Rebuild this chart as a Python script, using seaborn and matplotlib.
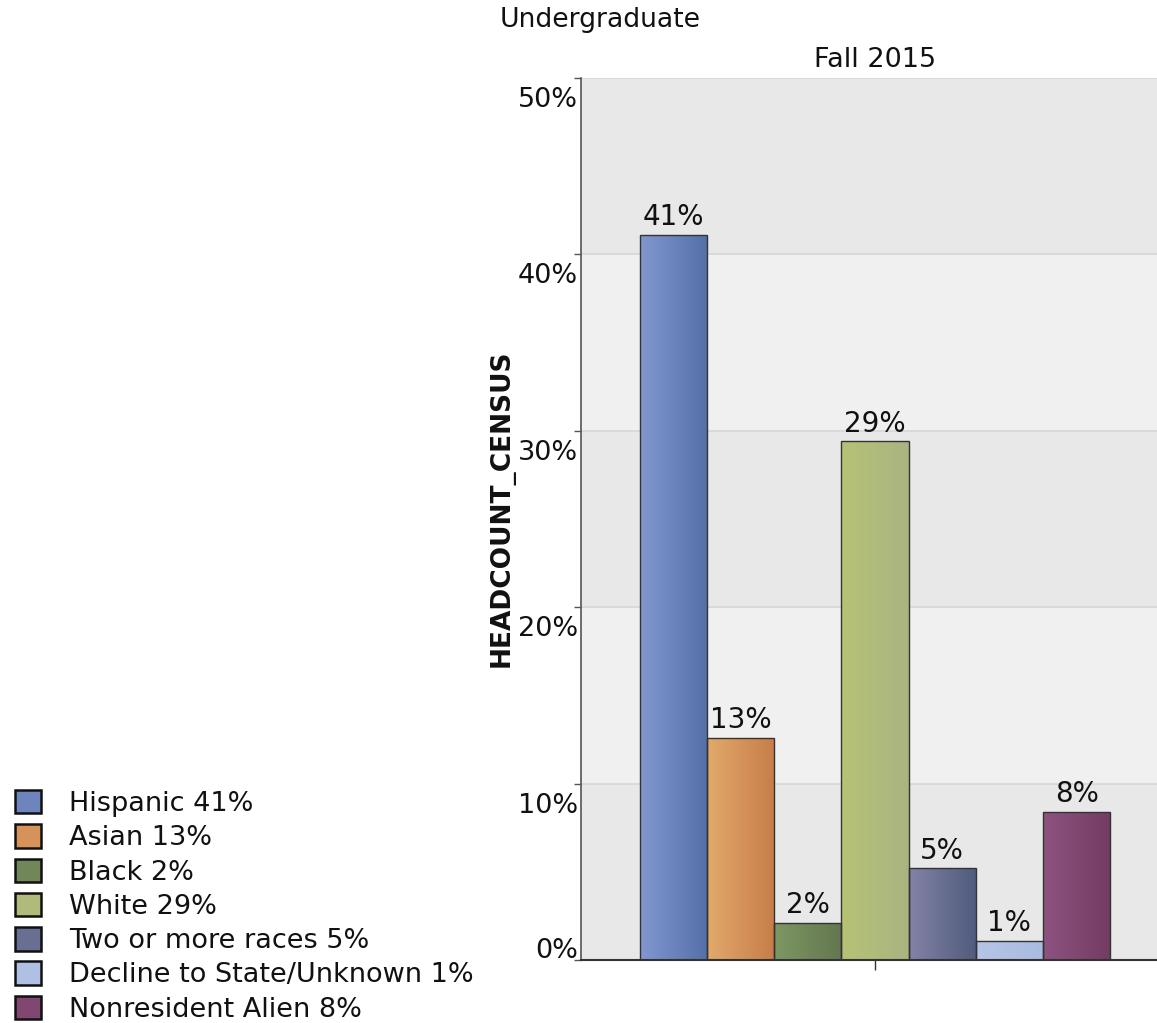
import numpy as np
import pandas as pd
import matplotlib
matplotlib.use("Agg")
import matplotlib.pyplot as plt
import matplotlib.transforms as mtransforms
import seaborn as sns
from matplotlib.colors import LinearSegmentedColormap
from matplotlib.patches import Patch

groups = ["Hispanic", "Asian", "Black", "White", "Two or more races",
          "Decline to State/Unknown", "Nonresident Alien"]
shares = [41.1, 12.6, 2.1, 29.4, 5.2, 1.1, 8.4]
term = ["Fall 2015"] * len(groups)
tick_vals = [0, 10, 20, 30, 40, 50]
tick_labels = ["0%", "10%", "20%", "30%", "40%", "50%"]

# left (light) and right (dark) colours of each bar's gradient
left_colors = ["#8297d0", "#e2aa6b", "#7e9762", "#b6c374", "#8383a6", "#b6c5e6", "#8e5381"]
right_colors = ["#5470a8", "#c77d48", "#637750", "#a9b482", "#4f5b7d", "#a9bbe0", "#733c63"]
mid_colors = ["#6d84bc", "#d5935a", "#718759", "#b0bb7b", "#696f92", "#b0c0e3", "#804772"]

df = pd.DataFrame({"term": term, "group": groups, "share": shares})

sns.set_theme(style="white")
plt.rcParams["font.family"] = ["DejaVu Sans"]

fig = plt.figure(figsize=(11.57, 10.23), dpi=100)
W, H = 1157, 1023
ax = fig.add_axes([581 / W, 1 - 960 / H, 588 / W, 882 / H])

sns.barplot(data=df, x="term", y="share", hue="group", hue_order=groups,
            palette=mid_colors, width=0.8, edgecolor="#333333", linewidth=1.0,
            legend=False, ax=ax)

ax.set_xlim(-0.5, 0.5)
ax.set_ylim(0, 50)

# alternating bands
for lo in range(0, 50, 10):
    ax.axhspan(lo, lo + 10, color="#e8e8e8" if (lo // 10) % 2 == 0 else "#f0f0f0",
               zorder=0, lw=0)
for yv in [10, 20, 30, 40, 50]:
    ax.axhline(yv, color="#d6d6d6", lw=1.2, zorder=0.5)

# gradient fill on each bar
for i, cont in enumerate(ax.containers):
    cmap = LinearSegmentedColormap.from_list("g%d" % i, [left_colors[i], right_colors[i]])
    for bar in cont:
        x0, y0 = bar.get_x(), bar.get_y()
        w, h = bar.get_width(), bar.get_height()
        grad = np.linspace(0, 1, 256).reshape(1, -1)
        im = ax.imshow(grad, cmap=cmap, extent=[x0, x0 + w, y0, y0 + h],
                       aspect="auto", zorder=bar.get_zorder() - 0.1, origin="lower")
        im.set_clip_path(bar)
        bar.set_facecolor("none")
        ax.text(x0 + w / 2, y0 + h + 0.2, "%d%%" % round(shares[i]),
                ha="center", va="bottom", fontsize=20, color="#111111")

ax.set_xlim(-0.5, 0.5)
ax.set_ylim(0, 50)

# y tick labels sit just below their tick, as in the original tool
ax.set_yticks(tick_vals)
ax.set_yticklabels([])
ax.tick_params(axis="y", left=True, length=5, width=1, color="#555555")
ytrans = ax.get_yaxis_transform()
for v, lab in zip(tick_vals, tick_labels):
    if v == 0:
        off = mtransforms.ScaledTranslation(-3 / 100, 2 / 100, fig.dpi_scale_trans)
        ax.text(0, v, lab, transform=ytrans + off, ha="right", va="baseline",
                fontsize=19.5, color="#111111")
    else:
        off = mtransforms.ScaledTranslation(-3 / 100, -9 / 100, fig.dpi_scale_trans)
        ax.text(0, v, lab, transform=ytrans + off, ha="right", va="top",
                fontsize=19.5, color="#111111")

ax.set_xticks([0])
ax.set_xticklabels([""])
ax.tick_params(axis="x", bottom=True, length=7, width=1, color="#333333")
ax.set_xlabel("")
ax.set_ylabel("")

for side in ["top", "right"]:
    ax.spines[side].set_visible(False)
ax.spines["left"].set_color("#555555")
ax.spines["left"].set_linewidth(1.2)
ax.spines["bottom"].set_color("#333333")
ax.spines["bottom"].set_linewidth(1.5)

fig.text(502 / W, 1 - 508 / H, "HEADCOUNT_CENSUS", fontsize=19, fontweight="bold",
         rotation=90, ha="center", va="center", color="#111111")
fig.text(500 / W, 1 - 20 / H, "Undergraduate", fontsize=19.2, ha="left", va="center",
         color="#111111")
fig.text(875 / W, 1 - 60 / H, "Fall 2015", fontsize=19.5, ha="center", va="center",
         color="#111111")

handles = [Patch(facecolor=mid_colors[i], edgecolor="#111111", linewidth=1.8)
           for i in range(len(groups))]
labels = ["%s %d%%" % (g, round(s)) for g, s in zip(groups, shares)]
leg = fig.legend(handles, labels, loc="lower left", bbox_to_anchor=(-1 / W, -16 / H),
                 frameon=False, fontsize=19.5, handlelength=0.95, handleheight=0.95,
                 handletextpad=1.05, labelspacing=0.27, borderaxespad=0.2)
for t in leg.get_texts():
    t.set_color("#111111")

plt.savefig("out.png", dpi=100)
plt.close()
